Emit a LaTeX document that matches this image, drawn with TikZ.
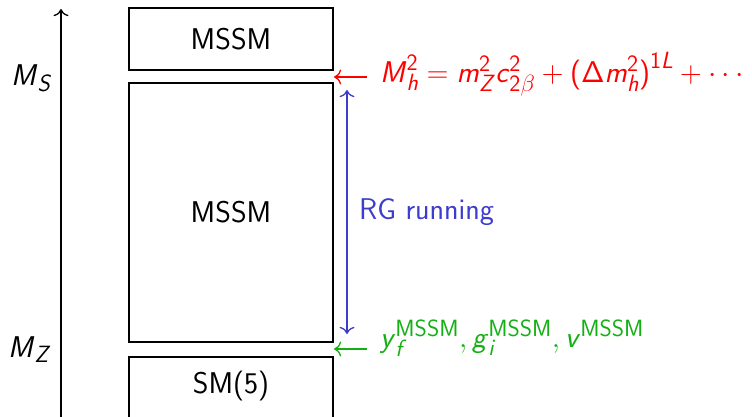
\RequirePackage{fix-cm}
\documentclass[tikz,border=0pt]{standalone}
\usepackage{amsmath}
\usetikzlibrary{arrows.meta}
\renewcommand\familydefault{\sfdefault}
\DeclareMathSizes{30}{30}{23.5}{18}
\newcommand\mi[1]{\text{\sffamily\itshape #1\/}}
\newcommand\ms[1]{\mathsf{#1}}
\definecolor{rgblue}{RGB}{60,60,205}
\definecolor{bcgreen}{RGB}{20,175,20}
\definecolor{mhred}{RGB}{255,0,0}
\begin{document}
\begin{tikzpicture}[x=1pt,y=-1pt,
  every node/.style={font=\fontsize{30}{36}\selectfont\sffamily},
  box/.style={draw,line width=1.6pt,minimum width=204pt,inner sep=0pt},
  axis/.style={line width=1.3pt,-{To[scale=1.6]}},
  inarrow/.style={line width=1.3pt,-{To[scale=1.6]}},
]
\clip (0,0) rectangle (752,416);
\node[box,minimum height=62pt] (top) at (231,39) {MSSM};
\node[box,minimum height=259pt] (mid) at (231,212.5) {MSSM};
\node[box,minimum height=80pt,anchor=north] (bot) at (231,356) {};
\node (bott) at (231,386) {SM(5)};
\coordinate (axb) at (61,420);
\coordinate (axt) at (61,9);
\draw[axis] (axb) -- (axt);
\node[anchor=base west,inner sep=0pt] (ms) at (11,85) {$\mi{M}_{\mi{S}}$};
\node[anchor=base west,inner sep=0pt] (mz) at (8,357) {$\mi{M}_{\mi{Z}}$};
\coordinate (rs) at (367,77);
\coordinate (re) at (334,77);
\draw[inarrow,mhred] (rs) -- (re);
\node[anchor=base west,text=mhred,inner sep=0pt] (mh) at (380,82) {$\mi{M}_{\mi{h}}^{\ms{2}} = \mi{m}_{\mi{Z}}^{\ms{2}} \mi{c}_{\ms{2}\beta}^{\ms{2}} + \mathopen{\text{(}}\ms{\Delta} \mi{m}_{\mi{h}}^{\ms{2}}\mathclose{\text{)}}^{\ms{1}\mi{L}} + \cdots$};
\coordinate (bt) at (347,90);
\coordinate (bb) at (347,334);
\draw[line width=1.3pt,{To[scale=1.6]}-{To[scale=1.6]},rgblue] (bb) -- (bt);
\node[anchor=west,text=rgblue,inner sep=0pt] (rg) at (359,212) {RG running};
\coordinate (gs) at (367,349);
\coordinate (ge) at (334,349);
\draw[inarrow,bcgreen] (gs) -- (ge);
\node[anchor=base west,text=bcgreen,inner sep=0pt] (bc) at (380,347) {$\mi{y}_{\mi{f}}^{\text{MSSM}}, \mi{g}_{\mi{i}}^{\text{MSSM}}, \mi{v}^{\text{MSSM}}$};
\end{tikzpicture}
\end{document}
